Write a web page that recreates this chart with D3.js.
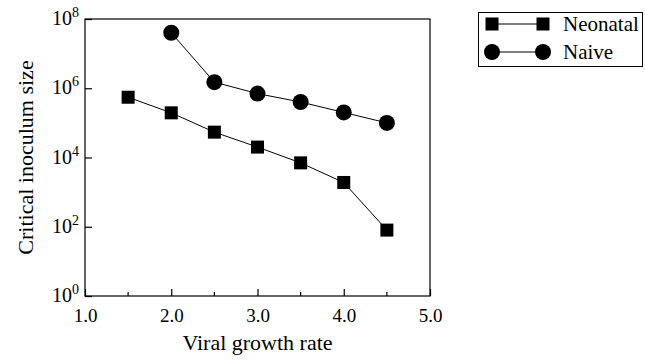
<!DOCTYPE html>
<html>
<head>
<meta charset="utf-8">
<script src="https://cdn.jsdelivr.net/npm/d3@7"></script>
<style>
  body { margin: 0; background: #fff; }
</style>
</head>
<body>
<script>
// data
var growthRate = [1.5, 2.0, 2.5, 3.0, 3.5, 4.0, 4.5];
var neonatal = [5.5e5, 1.95e5, 5.4e4, 2.0e4, 7.0e3, 1.9e3, 80];
var naiveRate = [2.0, 2.5, 3.0, 3.5, 4.0, 4.5];
var naive = [4.0e7, 1.5e6, 7.0e5, 4.0e5, 2.0e5, 1.0e5];
var xTicks = [1.0, 2.0, 3.0, 4.0, 5.0];
var xMinorTicks = [1.5, 2.5, 3.5, 4.5];
var yExponents = [0, 2, 4, 6, 8];
var seriesNames = ["Neonatal", "Naive"];

var serif = "'Liberation Serif'";

var w = 645;
var h = 360;
var padL = 85, padR = 430, padT = 19, padB = 296;

var svg = d3.select("body")
    .append("svg")
    .attr("width", w)
    .attr("height", h);

var xScale = d3.scaleLinear()
    .domain([1, 5])
    .range([padL, padR]);

var yScale = d3.scaleLog()
    .domain([1, 1e8])
    .range([padB, padT]);

// frame
svg.append("rect")
    .attr("x", padL)
    .attr("y", padT)
    .attr("width", padR - padL)
    .attr("height", padB - padT)
    .attr("fill", "none")
    .attr("stroke", "#000")
    .attr("stroke-width", 1.2);

// x axis, ticks pointing inward
var xAxis = d3.axisBottom(xScale)
    .tickValues(xTicks)
    .tickSizeInner(-7)
    .tickSizeOuter(0)
    .tickPadding(13)
    .tickFormat(d3.format(".1f"));

var gx = svg.append("g")
    .attr("transform", "translate(0," + padB + ")")
    .call(xAxis);
gx.attr("font-family", null).attr("font-size", null);
gx.select(".domain").remove();
gx.selectAll("line").attr("stroke-width", 1.2);
gx.selectAll("text")
    .attr("fill", "#000")
    .style("font-family", serif)
    .attr("font-size", 19);

svg.append("g")
    .selectAll("line")
    .data(xMinorTicks)
    .join("line")
    .attr("x1", function(d) { return xScale(d); })
    .attr("x2", function(d) { return xScale(d); })
    .attr("y1", padB)
    .attr("y2", padB - 4)
    .attr("stroke", "#000")
    .attr("stroke-width", 1.2);

// y axis, log, labels as 10^n
var yAxis = d3.axisLeft(yScale)
    .tickValues(yExponents.map(function(e) { return Math.pow(10, e); }))
    .tickSizeInner(-7)
    .tickSizeOuter(0)
    .tickFormat("");

var gy = svg.append("g")
    .attr("transform", "translate(" + padL + ",0)")
    .call(yAxis);
gy.select(".domain").remove();
gy.selectAll("line").attr("stroke-width", 1.2);

var yLab = svg.append("g")
    .selectAll("text")
    .data(yExponents)
    .join("text")
    .attr("x", padL - 6)
    .attr("y", function(d) { return yScale(Math.pow(10, d)) + 6; })
    .attr("text-anchor", "end")
    .style("font-family", serif)
    .attr("font-size", 20);
yLab.append("tspan").text("10");
yLab.append("tspan")
    .attr("dy", -8)
    .attr("font-size", 14)
    .text(function(d) { return d; });

// lines + markers
var line = d3.line()
    .x(function(d) { return xScale(d[0]); })
    .y(function(d) { return yScale(d[1]); });

var neoData = d3.zip(growthRate, neonatal);
var naiveData = d3.zip(naiveRate, naive);

[neoData, naiveData].forEach(function(ds) {
    svg.append("path")
        .datum(ds)
        .attr("d", line)
        .attr("fill", "none")
        .attr("stroke", "#000")
        .attr("stroke-width", 1);
});

var sq = 13;
svg.append("g")
    .selectAll("rect")
    .data(neoData)
    .join("rect")
    .attr("x", function(d) { return xScale(d[0]) - sq / 2; })
    .attr("y", function(d) { return yScale(d[1]) - sq / 2; })
    .attr("width", sq)
    .attr("height", sq)
    .attr("fill", "#000");

svg.append("g")
    .selectAll("circle")
    .data(naiveData)
    .join("circle")
    .attr("cx", function(d) { return xScale(d[0]); })
    .attr("cy", function(d) { return yScale(d[1]); })
    .attr("r", 8)
    .attr("fill", "#000");

// axis titles
svg.append("text")
    .attr("x", (padL + padR) / 2)
    .attr("y", 350)
    .attr("text-anchor", "middle")
    .style("font-family", serif)
    .attr("font-size", 22)
    .text("Viral growth rate");

svg.append("text")
    .attr("transform", "translate(33," + ((padT + padB) / 2) + ") rotate(-90)")
    .attr("text-anchor", "middle")
    .style("font-family", serif)
    .attr("font-size", 22)
    .text("Critical inoculum size");

// legend
var lg = svg.append("g");
lg.append("rect")
    .attr("x", 478.5)
    .attr("y", 12.5)
    .attr("width", 164)
    .attr("height", 54)
    .attr("fill", "none")
    .attr("stroke", "#000")
    .attr("stroke-width", 1);

[24, 52].forEach(function(ry, i) {
    lg.append("line")
        .attr("x1", 492).attr("x2", 543)
        .attr("y1", ry).attr("y2", ry)
        .attr("stroke", "#000");
    [492, 543].forEach(function(mx) {
        if (i === 0) {
            lg.append("rect")
                .attr("x", mx - sq / 2).attr("y", ry - sq / 2)
                .attr("width", sq).attr("height", sq)
                .attr("fill", "#000");
        } else {
            lg.append("circle")
                .attr("cx", mx).attr("cy", ry).attr("r", 8)
                .attr("fill", "#000");
        }
    });
    lg.append("text")
        .attr("x", 563)
        .attr("y", ry + 7)
        .style("font-family", serif)
        .attr("font-size", 21)
        .text(seriesNames[i]);
});
</script>
</body>
</html>
